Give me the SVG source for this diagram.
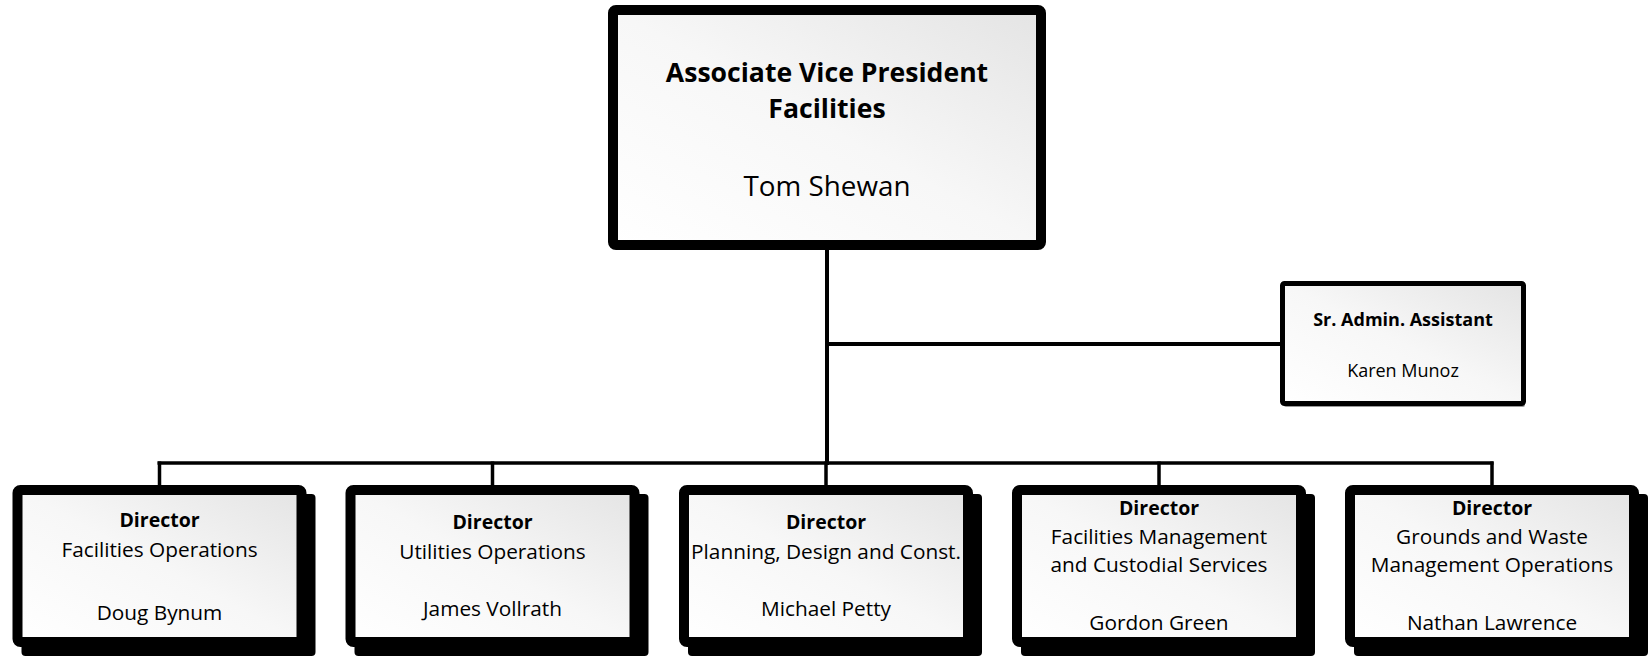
<svg xmlns="http://www.w3.org/2000/svg" width="1648" height="656" viewBox="0 0 1648 656">
<style>
.box{fill:url(#g);stroke:#000;stroke-linejoin:round}
.shadow{fill:#000}
.ln{stroke:#000;fill:none;stroke-linecap:butt}
text{font-family:"Open Sans","Liberation Sans",sans-serif;fill:#000;text-anchor:middle}
.b{font-weight:bold}
.d{font-size:20.8px}
.t{font-size:19.5px;font-weight:bold}
.a{font-size:18px}
</style>
<defs>
<linearGradient id="g" x1="0" y1="1" x2="1" y2="0">
<stop offset="0" stop-color="#ffffff"/>
<stop offset="0.5" stop-color="#f7f7f7"/>
<stop offset="1" stop-color="#e4e4e4"/>
</linearGradient>
</defs>
<g id="connectors">
<line class="ln" x1="827" y1="248" x2="827" y2="465" stroke-width="4"/>
<line class="ln" x1="827" y1="344" x2="1282" y2="344" stroke-width="4"/>
<line class="ln" x1="157.5" y1="463" x2="1493.5" y2="463" stroke-width="3.5"/>
<line class="ln" x1="159.5" y1="461.5" x2="159.5" y2="487" stroke-width="3.5"/>
<line class="ln" x1="492.5" y1="461.5" x2="492.5" y2="487" stroke-width="3.5"/>
<line class="ln" x1="826" y1="461.5" x2="826" y2="487" stroke-width="3.5"/>
<line class="ln" x1="1159" y1="461.5" x2="1159" y2="487" stroke-width="3.5"/>
<line class="ln" x1="1492" y1="461.5" x2="1492" y2="487" stroke-width="3.5"/>
</g>
<g id="avp">
<rect class="box" x="613" y="10" width="428" height="235" rx="3" stroke-width="10"/>
<text class="b" x="827" y="82" font-size="26.6">Associate Vice President</text>
<text class="b" x="827" y="118" font-size="26.6">Facilities</text>
<text x="827" y="196" font-size="27.8">Tom Shewan</text>
</g>
<g id="admin">
<rect x="1284" y="285" width="241" height="122" fill="#999" rx="2"/>
<rect class="box" x="1282.5" y="283.5" width="241" height="120" rx="2" stroke-width="5"/>
<text class="b a" x="1403" y="326">Sr. Admin. Assistant</text>
<text class="a" x="1403" y="377">Karen Munoz</text>
</g>
<g id="dir1">
<rect class="shadow" x="21.5" y="494" width="294" height="162" rx="4"/>
<rect class="box" x="17.5" y="490" width="284" height="152" rx="3" stroke-width="10"/>
<text class="t" x="159.5" y="527">Director</text>
<text class="d" x="159.5" y="557">Facilities Operations</text>
<text class="d" x="159.5" y="620">Doug Bynum</text>
</g>
<g id="dir2">
<rect class="shadow" x="354.5" y="494" width="294" height="162" rx="4"/>
<rect class="box" x="350.5" y="490" width="284" height="152" rx="3" stroke-width="10"/>
<text class="t" x="492.5" y="529">Director</text>
<text class="d" x="492.5" y="559">Utilities Operations</text>
<text class="d" x="492.5" y="616">James Vollrath</text>
</g>
<g id="dir3">
<rect class="shadow" x="688" y="494" width="294" height="162" rx="4"/>
<rect class="box" x="684" y="490" width="284" height="152" rx="3" stroke-width="10"/>
<text class="t" x="826" y="529">Director</text>
<text class="d" x="826" y="559">Planning, Design and Const.</text>
<text class="d" x="826" y="616">Michael Petty</text>
</g>
<g id="dir4">
<rect class="shadow" x="1021" y="494" width="294" height="162" rx="4"/>
<rect class="box" x="1017" y="490" width="284" height="152" rx="3" stroke-width="10"/>
<text class="t" x="1159" y="515">Director</text>
<text class="d" x="1159" y="544">Facilities Management</text>
<text class="d" x="1159" y="572">and Custodial Services</text>
<text class="d" x="1159" y="630">Gordon Green</text>
</g>
<g id="dir5">
<rect class="shadow" x="1354" y="494" width="294" height="162" rx="4"/>
<rect class="box" x="1350" y="490" width="284" height="152" rx="3" stroke-width="10"/>
<text class="t" x="1492" y="515">Director</text>
<text class="d" x="1492" y="544">Grounds and Waste</text>
<text class="d" x="1492" y="572">Management Operations</text>
<text class="d" x="1492" y="630">Nathan Lawrence</text>
</g>
</svg>
